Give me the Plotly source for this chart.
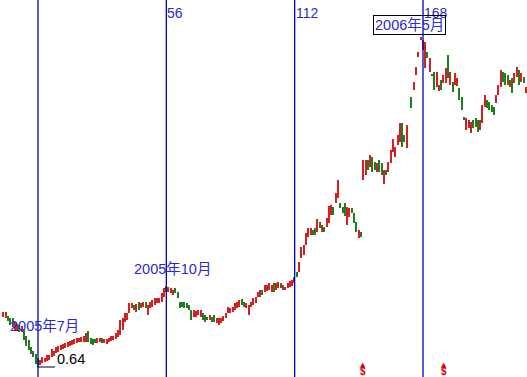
import plotly.graph_objects as go

# ---- data ----
high = [
    1.19, 1.19, 1.15, 1.13, 1.13, 1.09, 1.07, 1.06, 1.05, 1.01,
    0.95, 0.91, 0.84, 0.80, 0.77, 0.73, 0.71, 0.74, 0.73, 0.76,
    0.76, 0.82, 0.80, 0.84, 0.85, 0.86, 0.87, 0.88, 0.89, 0.90,
    0.91, 0.92, 0.93, 0.93, 0.94, 0.95, 0.98, 1.00, 0.93, 0.92,
    0.92, 0.93, 0.93, 0.93, 0.92, 0.92, 0.93, 0.95, 0.95, 0.98,
    1.01, 1.11, 1.13, 1.18, 1.18, 1.28, 1.28, 1.26, 1.27, 1.29,
    1.28, 1.29, 1.29, 1.26, 1.29, 1.31, 1.33, 1.33, 1.33, 1.38,
    1.43, 1.45, 1.44, 1.43, 1.41, 1.43, 1.39, 1.29, 1.29, 1.29,
    1.28, 1.26, 1.21, 1.21, 1.20, 1.21, 1.21, 1.18, 1.16, 1.14,
    1.16, 1.14, 1.16, 1.13, 1.13, 1.13, 1.15, 1.18, 1.24, 1.23,
    1.24, 1.28, 1.29, 1.31, 1.32, 1.29, 1.28, 1.26, 1.29, 1.33,
    1.34, 1.39, 1.41, 1.41, 1.46, 1.46, 1.48, 1.46, 1.48, 1.48,
    1.49, 1.48, 1.46, 1.44, 1.48, 1.50, 1.51, 1.54, 1.59, 1.69,
    1.84, 1.86, 1.98, 2.03, 2.03, 2.01, 2.03, 2.12, 2.09, 2.06,
    2.04, 2.13, 2.25, 2.26, 2.24, 2.38, 2.51, 2.28, 2.24, 2.28,
    2.24, 2.23, 2.23, 2.18, 2.09, 2.01, 1.99, 2.71, 2.71, 2.71,
    2.76, 2.74, 2.69, 2.68, 2.71, 2.68, 2.61, 2.61, 2.69, 2.81,
    2.92, 2.84, 2.96, 3.08, 3.08, 2.96, 3.06, None, 3.34, 3.49,
    3.64, 3.79, 3.94, 3.91, 3.89, 3.79, 3.73, 3.57, 3.59, 3.59,
    3.46, 3.51, 3.56, 3.63, 3.76, 3.59, 3.49, 3.58, 3.53, 3.43,
    3.34, 3.14, 3.13, 3.11, 3.09, 3.11, 3.13, 3.11, 3.11, 3.26,
    3.36, 3.31, 3.29, 3.26, 3.24, 3.36, 3.46, 3.61, 3.59, 3.58,
    3.56, 3.51, 3.53, 3.58, 3.64, 3.61, 3.58, 3.54, 3.44,
]
low = [
    1.14, 1.13, 1.10, 1.06, 1.04, 1.01, 1.00, 0.99, 0.99, 0.91,
    0.85, 0.81, 0.77, 0.74, 0.67, 0.64, 0.66, 0.68, 0.69, 0.70,
    0.71, 0.74, 0.75, 0.78, 0.79, 0.81, 0.82, 0.83, 0.84, 0.85,
    0.86, 0.87, 0.88, 0.89, 0.89, 0.89, 0.89, 0.89, 0.87, 0.86,
    0.88, 0.88, 0.89, 0.88, 0.88, 0.87, 0.89, 0.90, 0.91, 0.92,
    0.94, 0.96, 1.01, 1.09, 1.11, 1.18, 1.23, 1.21, 1.19, 1.21,
    1.23, 1.24, 1.23, 1.16, 1.23, 1.24, 1.26, 1.28, 1.28, 1.29,
    1.34, 1.39, 1.39, 1.38, 1.36, 1.38, 1.33, 1.23, 1.24, 1.23,
    1.23, 1.21, 1.11, 1.14, 1.14, 1.16, 1.14, 1.11, 1.09, 1.11,
    1.11, 1.09, 1.09, 1.08, 1.06, 1.08, 1.10, 1.13, 1.18, 1.18,
    1.19, 1.21, 1.23, 1.24, 1.26, 1.24, 1.23, 1.16, 1.24, 1.26,
    1.28, 1.34, 1.34, 1.36, 1.39, 1.40, 1.41, 1.39, 1.39, 1.41,
    1.43, 1.43, 1.41, 1.41, 1.43, 1.44, 1.45, 1.48, 1.54, 1.59,
    1.73, 1.76, 1.86, 1.94, 1.96, 1.96, 1.96, 1.99, 2.03, 1.99,
    1.99, 2.04, 2.08, 2.16, 2.16, 2.28, 2.33, 2.23, 2.18, 2.15,
    2.06, 2.14, 2.18, 2.08, 1.99, 1.93, 1.94, 2.51, 2.56, 2.61,
    2.64, 2.59, 2.61, 2.59, 2.59, 2.56, 2.47, 2.56, 2.59, 2.68,
    2.79, 2.74, 2.86, 2.89, 2.84, 2.89, 2.83, None, 3.23, 3.41,
    3.56, 3.74, 3.91, 3.81, 3.63, 3.73, 3.59, 3.55, 3.41, 3.44,
    3.40, 3.41, 3.48, 3.48, 3.53, 3.46, 3.39, 3.46, 3.45, 3.31,
    3.21, 3.11, 3.01, 3.03, 2.98, 3.03, 3.04, 2.99, 3.01, 3.08,
    3.24, 3.23, 3.21, 3.19, 3.16, 3.28, 3.36, 3.44, 3.49, 3.46,
    3.46, 3.44, 3.38, 3.48, 3.54, 3.46, 3.49, 3.48, 3.38,
]
# r = up bar (red), g = down bar (green), - = no trading
direction = list(
    "rrgggrrgrg" "ggggggrrrr" "rrrrrrrrrr" "rrrrrrrggg" "grrgrrrrrr"
    "rrrrrrrgrg" "rrgrrrrrrr" "rgrrrggggg" "gggrrrrggg" "rggrrrrrrr"
    "rrrrggrrrr" "rrrgrrrrgr" "rgrrrrrrgr" "rrrrrggrgr" "grrrgrrggg"
    "rrgggrgrrg" "rggrggrgrr" "rrrrggr-gr" "rrrrrgrggr" "rgrrgrgrrg"
    "ggrrrgggrr" "rggggrrrgg" "grgrrgrgr"
)

base_index = 15                      # bar index of the first cycle line
cycle_offsets = [0, 56, 112, 168]    # cycle lines (bars from the first line)
cycle_labels = ["", "56", "112", "168"]
dividend_bars = [157, 192]           # "$" markers

labels = [
    ("2005年7月", 17.8, 1.05, False),
    ("2005年10月", 73.5, 1.62, False),
    ("2006年5月", 177.1, 4.06, True),
]

RED = "#d42020"
GREEN = "#1f7f1f"
BLUE = "#0000c0"
TXT_BLUE = "#2a2ad0"

fig = go.Figure()
for code, color in (("r", RED), ("g", GREEN)):
    xs, bases, lens = [], [], []
    for i, (h, l, d) in enumerate(zip(high, low, direction)):
        if d == code and h is not None:
            xs.append(i)
            bases.append(l)
            lens.append(max(h - l, 0.012))
    fig.add_trace(go.Bar(x=xs, y=lens, base=bases, width=0.6,
                         marker=dict(color=color, line=dict(width=0)),
                         hoverinfo="skip", showlegend=False))

font_family = "Liberation Sans, Arial, Noto Sans CJK SC, sans-serif"

for off, lab in zip(cycle_offsets, cycle_labels):
    xi = base_index + off
    fig.add_shape(type="line", xref="x", yref="paper", x0=xi, x1=xi, y0=0, y1=1,
                  line=dict(color=BLUE, width=1.3))
    if lab:
        fig.add_annotation(x=xi, y=1, xref="x", yref="paper", text=lab,
                           showarrow=False, xanchor="left", yanchor="top",
                           xshift=-1, yshift=-3,
                           font=dict(family=font_family, size=14, color=TXT_BLUE))

for text, xi, yv, boxed in labels:
    fig.add_annotation(x=xi, y=yv, xref="x", yref="y", text=text, showarrow=False,
                       xanchor="center", yanchor="middle",
                       font=dict(family=font_family, size=14.5, color=TXT_BLUE),
                       bordercolor="black" if boxed else "rgba(0,0,0,0)",
                       borderwidth=1 if boxed else 0, borderpad=1)

# lowest price marker
valid = [(l, i) for i, l in enumerate(low) if l is not None]
min_low, min_i = min(valid)
fig.add_shape(type="line", xref="x", yref="y", x0=min_i, x1=min_i + 7.4,
              y0=min_low, y1=min_low, line=dict(color="black", width=1))
fig.add_annotation(x=min_i + 7.6, y=min_low, xref="x", yref="y",
                   text=f"{min_low:.2f}", showarrow=False,
                   xanchor="left", yanchor="middle", yshift=8,
                   font=dict(family=font_family, size=14.5, color="black"))

for b in dividend_bars:
    fig.add_annotation(x=b, y=0.0135, xref="x", yref="paper", text="<b>$</b>",
                       showarrow=False, xanchor="center", yanchor="middle",
                       font=dict(family=font_family, size=10, color="#dd0000"))
    fig.add_annotation(x=b, y=0.031, xref="x", yref="paper", text="▲",
                       showarrow=False, xanchor="center", yanchor="middle",
                       font=dict(family="DejaVu Sans", size=7, color="#dd0000"))

fig.update_layout(
    width=527, height=377,
    margin=dict(l=0, r=0, t=0, b=0),
    paper_bgcolor="white", plot_bgcolor="white",
    xaxis=dict(visible=False, range=[-1.58, 228.38], fixedrange=True),
    yaxis=dict(visible=False, range=[0.54, 4.31], fixedrange=True),
    bargap=0, barmode="overlay",
)

fig.write_html("out.html", config={"displayModeBar": False},
               post_script="document.body.style.margin='0';document.body.style.overflow='hidden';")
